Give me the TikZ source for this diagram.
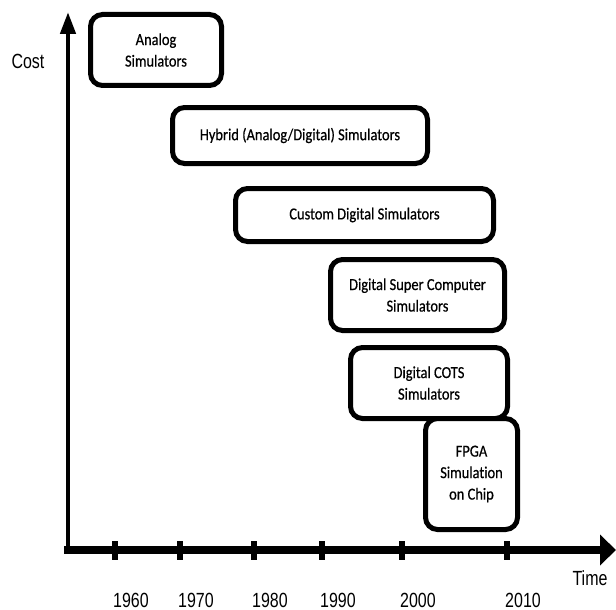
\documentclass[tikz,border=0pt]{standalone}
\usepackage{fontspec}
\setmainfont{Carlito}
\newfontfamily\erafont[FakeStretch=0.86, FakeBold=0.5, Ligatures=NoCommon]{Carlito}
\newfontfamily\narrowfont[FakeStretch=0.78]{Liberation Sans}
\usetikzlibrary{arrows.meta}
\tikzset{
  era/.style={draw=black, line width=5pt, rounded corners=12pt, fill=white,
    align=center, inner sep=0pt, font=\erafont\fontsize{16.8}{21.5}\selectfont},
  axislabel/.style={font=\narrowfont\fontsize{20.5}{22}\selectfont, inner sep=0pt},
  yearlabel/.style={font=\narrowfont\fontsize{20.5}{22}\selectfont, inner sep=0pt},
  tickmark/.style={line width=6pt},
}
\begin{document}
\begin{tikzpicture}[x=1pt, y=-1pt]
\useasboundingbox (0,0) rectangle (616,610);

% axes
\coordinate (O) at (68,550);
\coordinate (ytop) at (68,12);
\coordinate (xstart) at (64,550);
\coordinate (xend) at (616,550);
\draw[line width=4.5pt, -{Triangle[length=22pt,width=15pt]}] (O) -- (ytop);
\draw[line width=8pt, -{Triangle[length=16pt,width=30pt]}] (xstart) -- (xend);

\node[axislabel] (cost) at (28,61) {Cost};
\node[axislabel] (time) at (590,578) {Time};

% ticks and years
\foreach \tx/\yr in {115/1960, 180/1970, 254/1980, 322/1990, 402/2000, 507/2010} {
  \coordinate (t\yr a) at (\tx,541);
  \coordinate (t\yr b) at (\tx,560);
  \draw[tickmark] (t\yr a) -- (t\yr b);
  \node[yearlabel] (y\yr) at (\tx+16,600) {\yr};
}

% technology eras
\node[era, minimum width=131pt, minimum height=71pt] (analog) at (156,50) {Analog\\Simulators};
\node[era, minimum width=255pt, minimum height=56pt] (hybrid) at (300,135.5) {Hybrid (Analog/Digital) Simulators};
\node[era, minimum width=258pt, minimum height=53pt] (custom) at (364.5,215) {Custom Digital Simulators};
\node[era, minimum width=174pt, minimum height=71pt] (super) at (417.5,295) {Digital Super Computer\\Simulators};
\node[era, minimum width=157pt, minimum height=71pt] (cots) at (429,383) {Digital COTS\\Simulators};
\node[era, minimum width=92pt, minimum height=111pt] (fpga) at (471.5,474) {FPGA\\Simulation\\on Chip};
\end{tikzpicture}
\end{document}
